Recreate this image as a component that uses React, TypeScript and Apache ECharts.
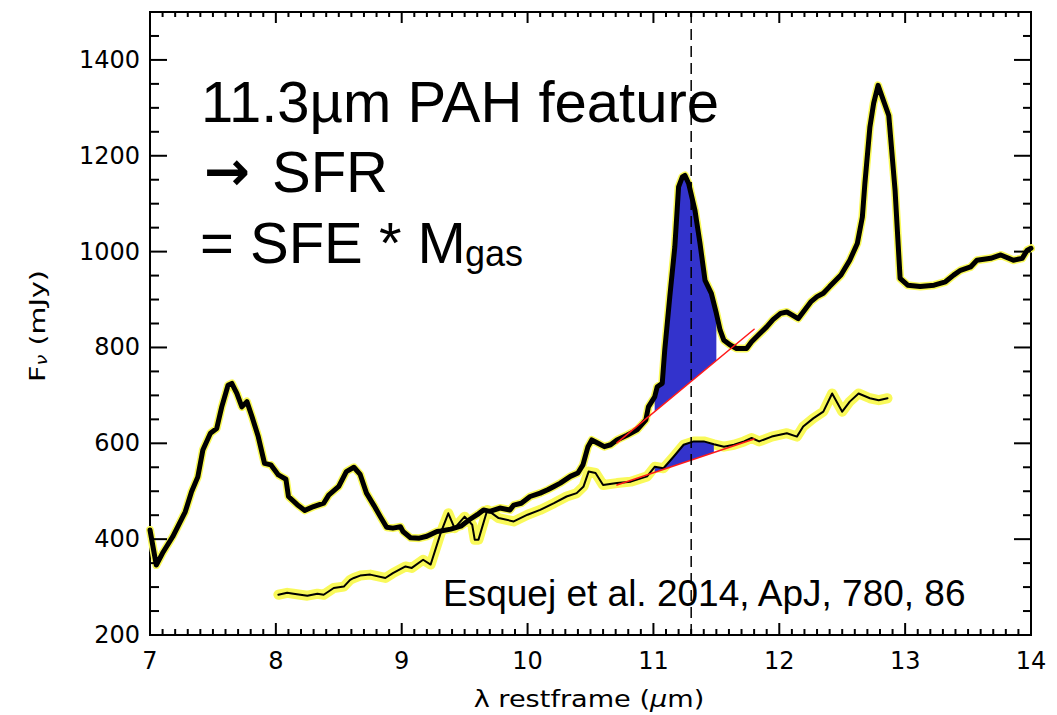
import React, { useEffect, useRef } from "react";
import * as echarts from "echarts";

// Nuclear mid-IR spectrum (thick trace): rest-frame wavelength [µm] and flux density [mJy]
const SPEC_A_X = [
  7.0, 7.05, 7.1, 7.18, 7.28, 7.33, 7.38, 7.42, 7.48, 7.53, 7.57, 7.62, 7.65, 7.69, 7.73, 7.77,
  7.81, 7.86, 7.91, 7.96, 8.02, 8.08, 8.1, 8.17, 8.23, 8.3, 8.38, 8.42, 8.5, 8.56, 8.62, 8.67,
  8.72, 8.78, 8.83, 8.88, 8.93, 8.99, 9.01, 9.07, 9.14, 9.2, 9.28, 9.31, 9.39, 9.47, 9.54, 9.6,
  9.65, 9.7, 9.78, 9.86, 9.89, 9.95, 10.02, 10.1, 10.16, 10.21, 10.26, 10.34, 10.4, 10.44, 10.48,
  10.51, 10.56, 10.61, 10.66, 10.71, 10.79, 10.87, 10.94, 10.96, 11.01, 11.03, 11.07, 11.09, 11.13,
  11.17, 11.2, 11.23, 11.25, 11.28, 11.33, 11.37, 11.41, 11.46, 11.5, 11.53, 11.56, 11.61, 11.66,
  11.74, 11.78, 11.85, 11.9, 11.95, 12.01, 12.06, 12.1, 12.15, 12.19, 12.25, 12.3, 12.35, 12.4,
  12.49, 12.56, 12.62, 12.66, 12.68, 12.72, 12.75, 12.785, 12.87, 12.92, 12.96, 13.02, 13.12,
  13.23, 13.32, 13.385, 13.44, 13.52, 13.57, 13.68, 13.76, 13.86, 13.93, 13.97, 14.0,
];
const SPEC_A_Y = [
  419, 346, 371, 405, 457, 499, 530, 586, 621, 631, 676, 721, 725, 704, 676, 687,
  656, 614, 558, 555, 534, 525, 489, 472, 460, 468, 475, 492, 510, 541, 550, 535,
  496, 470, 447, 425, 423, 426, 416, 403, 402, 406, 416, 417, 421, 427, 441, 451,
  461, 458, 465, 461, 471, 475, 489, 496, 503, 510, 517, 531, 538, 555, 593,
  607, 600, 593, 597, 607, 617, 628, 649, 676, 697, 718, 725, 795, 906,
  1010, 1135, 1156, 1159, 1142, 1086, 1017, 940, 913, 871, 836, 815, 805, 798,
  798, 812, 830, 843, 858, 871, 874, 868, 860, 874, 895, 906, 913, 927,
  951, 982, 1017, 1072, 1142, 1260, 1310, 1347, 1284, 1128, 944, 930, 927,
  930, 937, 951, 961, 968, 982, 986, 993, 982, 986, 1003, 1007,
];

// Extended-aperture spectrum (thin trace)
const SPEC_B_X = [
  8.02, 8.09, 8.14, 8.25, 8.33, 8.38, 8.46, 8.54, 8.59, 8.62, 8.67, 8.75, 8.87, 8.93, 9.03, 9.08,
  9.17, 9.23, 9.31, 9.37, 9.42, 9.5, 9.56, 9.58, 9.61, 9.68, 9.77, 9.89, 10.0, 10.1, 10.21, 10.31,
  10.39, 10.445, 10.485, 10.54, 10.6, 10.71, 10.82, 10.95, 11.01, 11.08, 11.16, 11.24, 11.32, 11.4,
  11.48, 11.56, 11.64, 11.72, 11.78, 11.84, 11.94, 12.06, 12.14, 12.19, 12.27, 12.35, 12.42, 12.5,
  12.56, 12.63, 12.72, 12.79, 12.86,
];
const SPEC_B_Y = [
  284, 288, 286, 282, 286, 284, 298, 301, 315, 319, 324, 326, 319, 329, 343, 340,
  357, 347, 413, 454, 423, 447, 430, 399, 399, 461, 444, 437, 451, 461, 475, 489,
  496, 510, 541, 538, 513, 517, 520, 531, 551, 548, 572, 597, 604, 604,
  598, 593, 597, 604, 611, 604, 614, 621, 614, 635, 652, 666, 704, 666,
  687, 704, 694, 690, 694,
];

// Straight local continua under the 11.3 µm band: [wavelength, flux] end points
const CONT_A = [[10.71, 601], [11.8, 838]];
const CONT_B = [[10.71, 513], [11.8, 609]];
// Wavelength window integrated for the band
const BAND_WINDOW = [11.01, 11.5];
const FEATURE_WL = 11.3;

const X_RANGE = [7, 14];
const Y_RANGE = [200, 1500];
const X_MAJOR_TICKS = [7, 8, 9, 10, 11, 12, 13, 14];
const Y_MAJOR_TICKS = [200, 400, 600, 800, 1000, 1200, 1400];
const X_MINOR_PER_MAJOR = 10;
const Y_MINOR_STEP = 50;

const YELLOW = "#f9f95a";
const BLUE = "#3333cc";
const RED = "#ff1a1a";

const pairs = (xs: number[], ys: number[]) => xs.map((x, i) => [x, ys[i]]);

const contAt = (c: number[][], x: number) =>
  c[0][1] + ((c[1][1] - c[0][1]) * (x - c[0][0])) / (c[1][0] - c[0][0]);

// Closed outline between a spectrum and its continuum inside the band window
function bandOutline(xs: number[], ys: number[], cont: number[][]) {
  const top = pairs(xs, ys).filter(
    (p) => p[0] >= BAND_WINDOW[0] - 1e-9 && p[0] <= BAND_WINDOW[1] + 1e-9
  );
  const x0 = top[0][0];
  const x1 = top[top.length - 1][0];
  return [...top, [x1, contAt(cont, x1)], [x0, contAt(cont, x0)]];
}

const BANDS = [
  bandOutline(SPEC_A_X, SPEC_A_Y, CONT_A),
  bandOutline(SPEC_B_X, SPEC_B_Y, CONT_B),
];

// Tick values for the framed axes: [value, isMajor]
const X_TICK_DATA: number[][] = [];
X_MAJOR_TICKS.forEach((v, i) => {
  X_TICK_DATA.push([v, 1]);
  if (i < X_MAJOR_TICKS.length - 1) {
    const step = (X_MAJOR_TICKS[i + 1] - v) / X_MINOR_PER_MAJOR;
    for (let k = 1; k < X_MINOR_PER_MAJOR; k++) X_TICK_DATA.push([+(v + k * step).toFixed(3), 0]);
  }
});
const Y_TICK_DATA: number[][] = [];
for (let v = Y_RANGE[0]; v < Y_RANGE[1]; v += Y_MINOR_STEP) {
  Y_TICK_DATA.push([v, Y_MAJOR_TICKS.includes(v) ? 1 : 0]);
}

const TICK_FONT = "DejaVu Sans";
const SANS = '"Liberation Sans", Arial, Helvetica, sans-serif';
const TICK_LEN = { xMajor: 12, xMinor: 6, yMajor: 17, yMinor: 9 };

function lineSeries(name: string, data: number[][], color: string, width: number, z: number, extra: any = {}) {
  return {
    name,
    type: "line",
    data,
    xAxisIndex: 0,
    yAxisIndex: 0,
    showSymbol: false,
    symbol: "none",
    silent: true,
    z,
    lineStyle: { color, width, join: "round", cap: "round", ...extra },
  };
}

const tickStyle = { stroke: "#000", lineWidth: 2 };

export default function App() {
  const ref = useRef<HTMLDivElement>(null);

  useEffect(() => {
    if (!ref.current) return;
    const chart = echarts.init(ref.current, null, { renderer: "svg" });

    const specA = pairs(SPEC_A_X, SPEC_A_Y);
    const specB = pairs(SPEC_B_X, SPEC_B_Y);
    const textStyle = (size: number, family = SANS) => ({
      fontFamily: family,
      fontSize: size,
      fill: "#000",
      verticalAlign: "middle",
      textVerticalAlign: "middle",
    });

    chart.setOption({
      animation: false,
      grid: {
        left: 150,
        right: 26,
        top: 12,
        bottom: 80,
        show: true,
        borderColor: "#000",
        borderWidth: 2,
      },
      xAxis: {
        type: "value",
        min: X_RANGE[0],
        max: X_RANGE[1],
        interval: 1,
        axisLine: { show: false, onZero: false },
        axisTick: { show: false },
        splitLine: { show: false },
        axisLabel: { color: "#000", fontFamily: TICK_FONT, fontSize: 24, margin: 14 },
      },
      yAxis: {
        type: "value",
        min: Y_RANGE[0],
        max: Y_RANGE[1],
        interval: 200,
        axisLine: { show: false, onZero: false },
        axisTick: { show: false },
        splitLine: { show: false },
        axisLabel: {
          color: "#000",
          fontFamily: TICK_FONT,
          fontSize: 24,
          margin: 10,
          formatter: (v: number) => (v >= Y_RANGE[1] ? "" : String(v)),
        },
      },
      series: [
        lineSeries("A error", specA, YELLOW, 8, 1),
        lineSeries("B error", specB, YELLOW, 10, 1),
        {
          type: "custom",
          name: "11.3 band",
          silent: true,
          z: 2,
          data: BANDS.map((b) => b[0]),
          renderItem: (params: any, api: any) => {
            const outline = BANDS[params.dataIndex];
            return {
              type: "polygon",
              shape: { points: outline.map((p) => api.coord(p)) },
              style: { fill: BLUE, stroke: "none" },
            };
          },
        },
        lineSeries("A", specA, "#000", 5, 3),
        lineSeries("B", specB, "#000", 2, 3),
        lineSeries("continuum A", CONT_A, RED, 1.5, 4),
        lineSeries("continuum B", CONT_B, RED, 1.5, 4),
        lineSeries(
          "11.3",
          [
            [FEATURE_WL, Y_RANGE[0]],
            [FEATURE_WL, Y_RANGE[1]],
          ],
          "#000",
          1.5,
          5,
          { type: [11, 6], cap: "butt" }
        ),
        // Inward ticks on the bottom and top edges
        {
          type: "custom",
          name: "x ticks",
          silent: true,
          z: 6,
          clip: false,
          data: X_TICK_DATA.map(([v, m]) => [v, Y_RANGE[0], m]),
          renderItem: (params: any, api: any) => {
            const v = api.value(0);
            const major = api.value(2) === 1;
            const b = api.coord([v, Y_RANGE[0]]);
            const t = api.coord([v, Y_RANGE[1]]);
            const lb = major ? TICK_LEN.xMajor : TICK_LEN.xMinor;
            const lt = major ? TICK_LEN.xMajor - 1 : TICK_LEN.xMinor - 1;
            return {
              type: "group",
              children: [
                { type: "line", shape: { x1: b[0], y1: b[1], x2: b[0], y2: b[1] - lb }, style: tickStyle },
                { type: "line", shape: { x1: t[0], y1: t[1], x2: t[0], y2: t[1] + lt }, style: tickStyle },
              ],
            };
          },
        },
        // Inward ticks on the left and right edges
        {
          type: "custom",
          name: "y ticks",
          silent: true,
          z: 6,
          clip: false,
          data: Y_TICK_DATA.map(([v, m]) => [X_RANGE[0], v, m]),
          renderItem: (params: any, api: any) => {
            const v = api.value(1);
            const major = api.value(2) === 1;
            const l = api.coord([X_RANGE[0], v]);
            const r = api.coord([X_RANGE[1], v]);
            const ll = major ? TICK_LEN.yMajor : TICK_LEN.yMinor;
            const lr = major ? TICK_LEN.yMajor : TICK_LEN.yMinor - 1;
            return {
              type: "group",
              children: [
                { type: "line", shape: { x1: l[0], y1: l[1], x2: l[0] + ll, y2: l[1] }, style: tickStyle },
                { type: "line", shape: { x1: r[0], y1: r[1], x2: r[0] - lr, y2: r[1] }, style: tickStyle },
              ],
            };
          },
        },
      ],
      graphic: [
        { type: "text", x: 201, y: 101, silent: true, style: { text: "11.3µm PAH feature", ...textStyle(58) } },
        {
          type: "text",
          x: 204,
          y: 171,
          silent: true,
          style: { text: "→", ...textStyle(55, "DejaVu Sans"), fontWeight: "bold" },
        },
        { type: "text", x: 272, y: 171, silent: true, style: { text: "SFR", ...textStyle(58) } },
        { type: "text", x: 200, y: 242, silent: true, style: { text: "= SFE * M", ...textStyle(58) } },
        { type: "text", x: 465, y: 253, silent: true, style: { text: "gas", ...textStyle(36) } },
        {
          type: "text",
          x: 443,
          y: 593,
          silent: true,
          style: { text: "Esquej et al. 2014, ApJ, 780, 86", ...textStyle(37) },
        },
        {
          type: "text",
          x: 589,
          y: 699,
          scaleX: 1.18,
          silent: true,
          style: {
            text: "λ restframe ({i|μ}m)",
            ...textStyle(23, TICK_FONT),
            align: "center",
            textAlign: "center",
            rich: { i: { fontFamily: TICK_FONT, fontSize: 23, fontStyle: "italic", fill: "#000" } },
          },
        },
        {
          type: "text",
          x: 37,
          y: 326,
          rotation: Math.PI / 2,
          scaleX: 1.3,
          silent: true,
          style: {
            text: "{f|F}{s|ν}{f| (mJy)}",
            ...textStyle(22, TICK_FONT),
            align: "center",
            textAlign: "center",
            rich: {
              f: { fontFamily: TICK_FONT, fontSize: 22, fill: "#000", verticalAlign: "middle" },
              s: {
                fontFamily: TICK_FONT,
                fontSize: 15,
                fontStyle: "italic",
                fill: "#000",
                verticalAlign: "bottom",
                padding: [10, 0, 0, 0],
              },
            },
          },
        },
      ],
    });

    return () => chart.dispose();
  }, []);

  return (
    <div
      ref={ref}
      style={{ position: "fixed", left: 0, top: 0, width: 1057, height: 715, background: "#fff" }}
    />
  );
}
